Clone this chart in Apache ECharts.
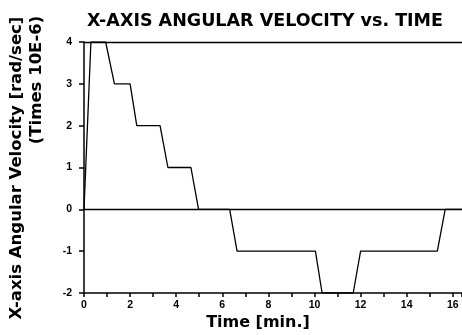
<!DOCTYPE html>
<html>
<head>
<meta charset="utf-8">
<script src="https://cdn.jsdelivr.net/npm/echarts@6/dist/echarts.min.js"></script>
<style>
  html, body { margin: 0; padding: 0; background: #fff; }
  #chart { width: 462px; height: 335px; }
</style>
</head>
<body>
<div id="chart"></div>
<script>
// time (min) and x-axis angular velocity (x 10E-6 rad/sec)
const timeMin = [0, 0.07, 0.3, 0.94, 1.32, 2.0, 2.29, 3.3, 3.64, 4.64, 4.97, 6.32, 6.64, 10.04, 10.33, 11.68, 12.0, 15.33, 15.67, 16.4];
const velocity = [0, 0, 4, 4, 3, 3, 2, 2, 1, 1, 0, 0, -1, -1, -2, -2, -1, -1, 0, 0];
const refLines = [0, 4];

const font = '"DejaVu Sans", sans-serif';
const labelFont = '"Liberation Sans", Arial, sans-serif';
const chart = echarts.init(document.getElementById('chart'));

chart.setOption({
  animation: false,
  title: {
    text: 'X-AXIS ANGULAR VELOCITY vs. TIME',
    left: 260,
    textAlign: 'center',
    top: 7,
    textStyle: { fontFamily: font, fontWeight: 'bold', fontSize: 17.5, color: '#000' }
  },
  graphic: [
    {
      type: 'text', x: 17, y: 168, rotation: Math.PI / 2,
      style: {
        text: 'X-axis Angular Velocity [rad/sec]', align: 'center', verticalAlign: 'middle',
        font: 'bold 16.5px ' + font, fill: '#000'
      }
    },
    {
      type: 'text', x: 37, y: 80, rotation: Math.PI / 2,
      style: {
        text: '(Times 10E-6)', align: 'center', verticalAlign: 'middle',
        font: 'bold 16.5px ' + font, fill: '#000'
      }
    },
    {
      type: 'text', x: 258, y: 323,
      style: {
        text: 'Time [min.]', align: 'center', verticalAlign: 'middle',
        font: 'bold 16px ' + font, fill: '#000'
      }
    }
  ],
  grid: { left: 84, right: 0, top: 42, bottom: 42, containLabel: false, outerBoundsMode: 'none' },
  xAxis: {
    type: 'value',
    min: 0,
    max: 16.4,
    interval: 2,
    axisLine: { onZero: false, lineStyle: { color: '#000', width: 1.5 } },
    axisTick: { length: 4, lineStyle: { color: '#000', width: 1.5 } },
    minorTick: { show: true, splitNumber: 2, length: 4, lineStyle: { color: '#000', width: 1.5 } },
    axisLabel: {
      margin: 7,
      formatter: v => (v % 2 === 0 ? String(v) : ''),
      fontFamily: labelFont, fontWeight: 'bold', fontSize: 10.5, color: '#000'
    },
    splitLine: { show: false }
  },
  yAxis: {
    type: 'value',
    min: -2,
    max: 4,
    interval: 1,
    axisLine: { show: true, lineStyle: { color: '#000', width: 1.5 } },
    axisTick: { show: true, length: 5, lineStyle: { color: '#000', width: 1.5 } },
    axisLabel: { margin: 12, fontFamily: labelFont, fontWeight: 'bold', fontSize: 10.5, color: '#000' },
    splitLine: { show: false }
  },
  series: [{
    type: 'line',
    data: timeMin.map((t, i) => [t, velocity[i]]),
    showSymbol: false,
    lineStyle: { color: '#000', width: 1.3 },
    markLine: {
      silent: true,
      symbol: 'none',
      label: { show: false },
      lineStyle: { color: '#000', width: 1.3, type: 'solid' },
      data: refLines.map(v => ({ yAxis: v }))
    }
  }]
});
</script>
</body>
</html>
